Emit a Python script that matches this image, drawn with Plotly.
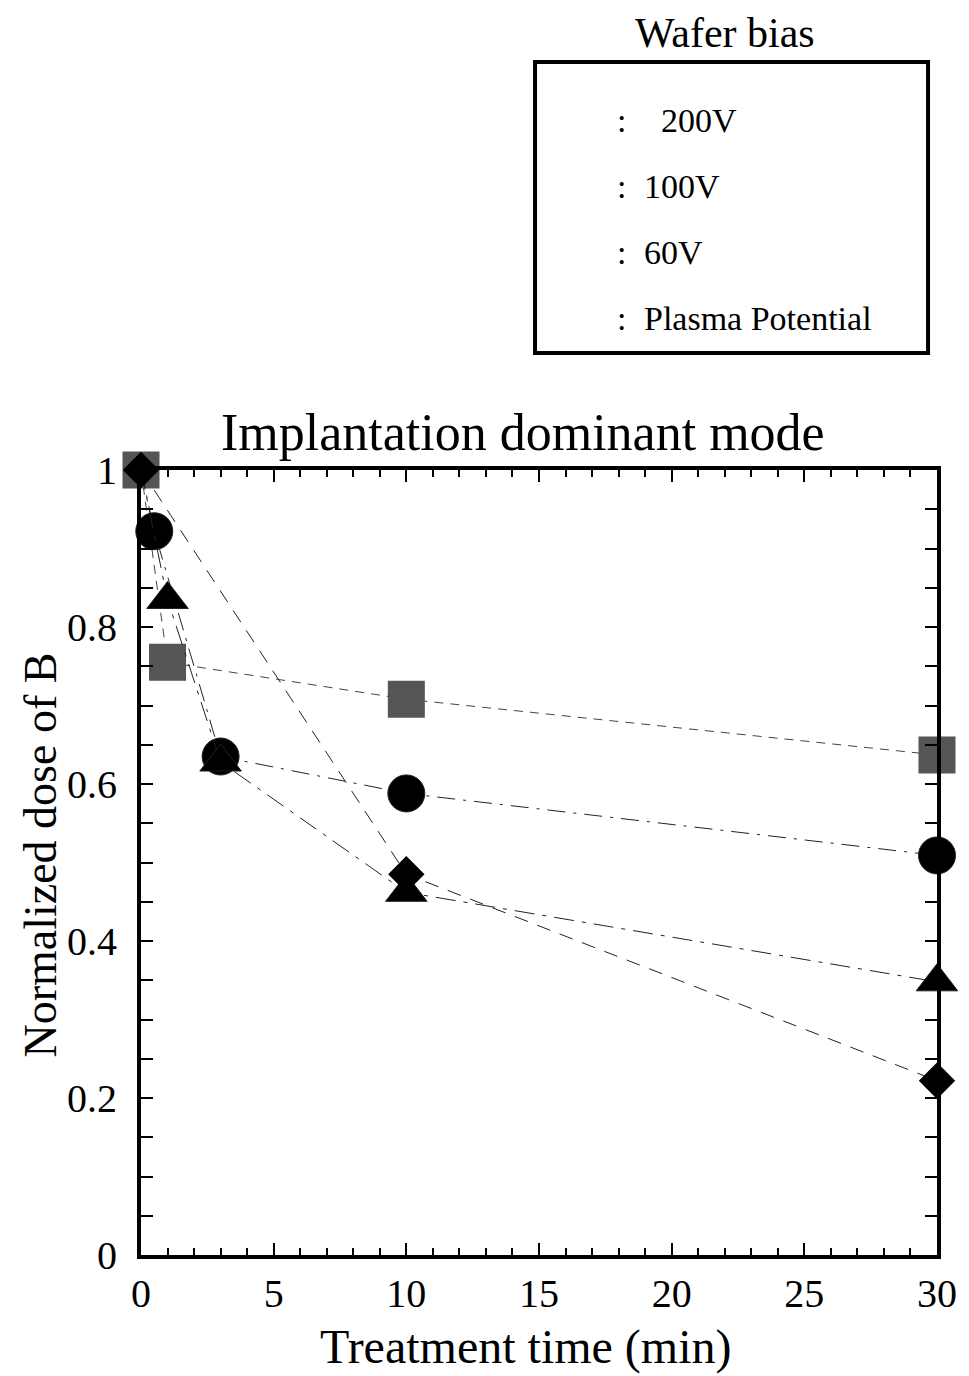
import plotly.graph_objects as go

# Data
t_200 = [0, 1, 10, 30]
d_200 = [1.0, 0.755, 0.708, 0.637]
t_100 = [0, 0.5, 3, 10, 30]
d_100 = [1.0, 0.922, 0.635, 0.588, 0.509]
t_60 = [0, 1, 3, 10, 30]
d_60 = [1.0, 0.835, 0.628, 0.462, 0.348]
t_pp = [0, 10, 30]
d_pp = [1.0, 0.485, 0.222]

legend_title = "Wafer bias"
legend_labels = ["\u00a0\u00a0200V", "100V", "60V", "Plasma Potential"]

FONT = "Liberation Serif"
OFF = 8  # body margin of the html page
L, T, PW, PH = 141 - OFF, 470 - OFF, 800, 785
W, H = 969 - OFF, 1376 - OFF

def px(xp):
    return (xp - 141) / PW

def py(yp):
    return (1255 - yp) / PH

def sizes(t, s):
    return [0 if v == 0 else s for v in t]

fig = go.Figure()
fig.add_trace(go.Scatter(x=t_200, y=d_200, mode="lines+markers", cliponaxis=False,
    line=dict(color="#444", width=1, dash="9px,7px"),
    marker=dict(symbol="square", size=37, color="#555555", opacity=1), showlegend=False))
fig.add_trace(go.Scatter(x=t_100, y=d_100, mode="lines+markers", cliponaxis=False,
    line=dict(color="#222", width=1, dash="18px,8px,3px,8px"),
    marker=dict(symbol="circle", size=sizes(t_100, 37), color="black", opacity=1), showlegend=False))
fig.add_trace(go.Scatter(x=t_60, y=d_60, mode="lines+markers", cliponaxis=False,
    line=dict(color="#222", width=1, dash="20px,8px,4px,8px"),
    marker=dict(symbol="triangle-up", size=sizes(t_60, 36), color="black", opacity=1), showlegend=False))
fig.add_trace(go.Scatter(x=t_pp, y=d_pp, mode="lines+markers", cliponaxis=False,
    line=dict(color="#222", width=1, dash="14px,10px"),
    marker=dict(symbol="diamond", size=28, color="black", opacity=1), showlegend=False))

axis_common = dict(showline=True, linewidth=4, linecolor="black", mirror="allticks",
                   ticks="inside", ticklen=12, tickwidth=2, tickcolor="black",
                   showgrid=False, zeroline=False)

fig.update_xaxes(range=[0, 30], dtick=5, tick0=0,
                 tickfont=dict(family=FONT, size=40, color="black"),
                 minor=dict(dtick=1, ticks="inside", ticklen=7, tickwidth=2, tickcolor="black", showgrid=False),
                 ticklabelstandoff=0, **axis_common)
fig.update_yaxes(range=[0, 1], dtick=0.2, tick0=0, tickformat="~g",
                 tickfont=dict(family=FONT, size=40, color="black"),
                 minor=dict(dtick=0.05, ticks="inside", ticklen=12, tickwidth=2, tickcolor="black", showgrid=False),
                 ticklabelstandoff=12, **axis_common)

annotations = [
    dict(text="Implantation dominant mode", x=px(525), y=py(432), xref="paper", yref="paper",
         showarrow=False, font=dict(family=FONT, size=52, color="black"), xanchor="center", yanchor="middle"),
    dict(text="Treatment time (min)", x=px(528), y=py(1347), xref="paper", yref="paper",
         showarrow=False, font=dict(family=FONT, size=48, color="black"), xanchor="center", yanchor="middle"),
    dict(text="Normalized dose of B", x=px(39), y=py(855), xref="paper", yref="paper", textangle=-90,
         showarrow=False, font=dict(family=FONT, size=46, color="black"), xanchor="center", yanchor="middle"),
    dict(text=legend_title, x=px(728), y=py(33), xref="paper", yref="paper",
         showarrow=False, font=dict(family=FONT, size=42, color="black"), xanchor="center", yanchor="middle"),
]
entry_y = [120, 186, 252, 318]
for lbl, yp in zip(legend_labels, entry_y):
    annotations.append(dict(text=":", x=px(624), y=py(yp), xref="paper", yref="paper", showarrow=False,
                            font=dict(family=FONT, size=34, color="black"), xanchor="center", yanchor="middle"))
    annotations.append(dict(text=lbl, x=px(645), y=py(yp), xref="paper", yref="paper", showarrow=False,
                            font=dict(family=FONT, size=34, color="black"), xanchor="left", yanchor="middle"))

fig.add_shape(type="rect", xref="paper", yref="paper",
              x0=px(537), x1=px(932), y0=py(353), y1=py(62),
              line=dict(color="black", width=4))

fig.update_layout(width=W, height=H, margin=dict(l=L, r=W - L - PW, t=T, b=H - T - PH),
                  plot_bgcolor="white", paper_bgcolor="white", annotations=annotations)

fig.write_html("out.html")
